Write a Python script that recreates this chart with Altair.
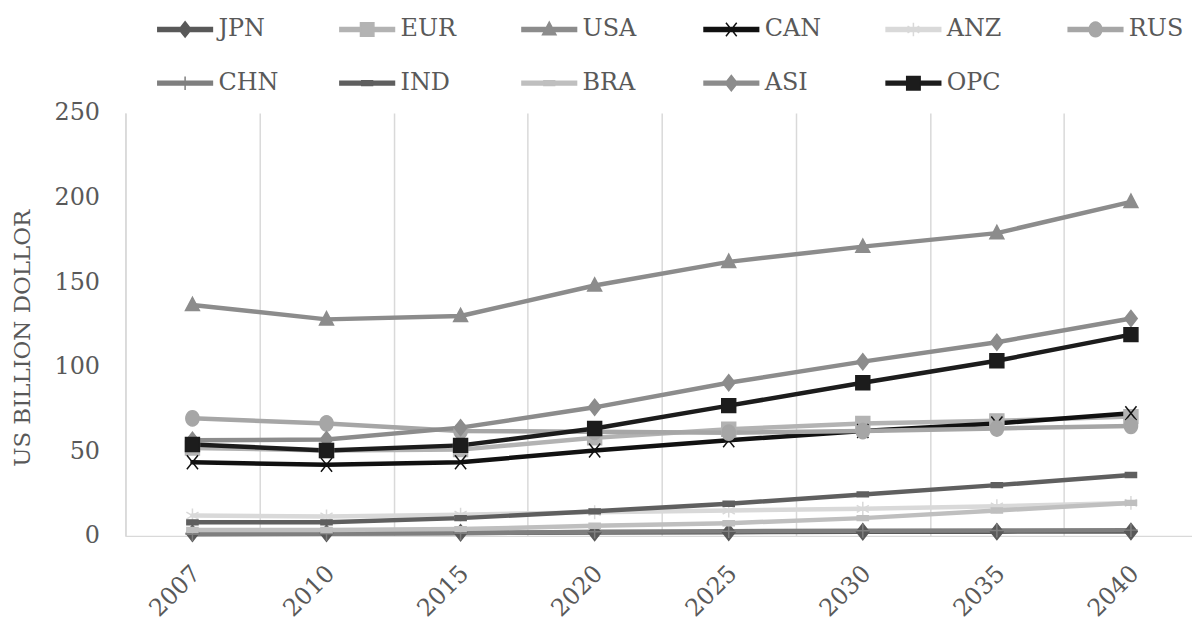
import math
import altair as alt
import pandas as pd

years = ["2007", "2010", "2015", "2020", "2025", "2030", "2035", "2040"]
series_names = ["JPN", "EUR", "USA", "CAN", "ANZ", "RUS", "CHN", "IND", "BRA", "ASI", "OPC"]

JPN = [1.5, 1.6, 1.8, 2.0, 2.2, 2.4, 2.5, 2.6]
EUR = [52.0, 50.5, 51.0, 58.0, 63.0, 66.5, 68.0, 70.5]
USA = [136.5, 128.0, 130.0, 148.0, 162.0, 171.0, 179.0, 197.5]
CAN = [43.5, 42.0, 43.5, 50.5, 56.5, 62.0, 66.5, 72.5]
ANZ = [12.0, 11.5, 12.5, 14.0, 15.0, 16.0, 17.5, 19.5]
RUS = [69.5, 66.5, 62.0, 61.5, 61.0, 62.0, 63.5, 65.0]
CHN = [1.0, 1.2, 1.5, 2.5, 2.8, 3.0, 3.2, 3.4]
IND = [8.0, 8.0, 10.5, 14.5, 19.0, 24.5, 30.0, 36.0]
BRA = [3.5, 3.5, 4.0, 6.0, 7.5, 10.5, 15.0, 19.5]
ASI = [56.5, 57.0, 64.0, 76.0, 90.5, 103.0, 114.5, 128.5]
OPC = [54.0, 50.5, 53.5, 63.5, 77.0, 90.5, 103.5, 119.0]

series_values = [JPN, EUR, USA, CAN, ANZ, RUS, CHN, IND, BRA, ASI, OPC]
colors = ["#595959", "#b3b3b3", "#8c8c8c", "#111111", "#d9d9d9", "#a6a6a6",
          "#7f7f7f", "#5f5f5f", "#bfbfbf", "#8c8c8c", "#1c1c1c"]
marker_kinds = ["diamond", "square", "triangle", "x", "asterisk", "circle",
                "plus", "dash", "dash", "diamond", "square"]

FONT = "DejaVu Serif"
TEXT = "#595959"
GRID = "#d9d9d9"

# marker geometry in unit symbol coordinates
MARKERS = {
    "diamond": [("p", [(0, -1.15), (0.9, 0), (0, 1.15), (-0.9, 0)])],
    "square": [("p", [(-1, -1), (1, -1), (1, 1), (-1, 1)])],
    "triangle": [("p", [(0, -1.1), (1, 0.8), (-1, 0.8)])],
    "x": [("l", [(-0.8, -1), (0.8, 1)]), ("l", [(-0.8, 1), (0.8, -1)])],
    "asterisk": [("l", [(0, -1), (0, 1)]), ("l", [(-0.87, -0.5), (0.87, 0.5)]),
                 ("l", [(-0.87, 0.5), (0.87, -0.5)])],
    "circle": [("p", [(0.95 * math.cos(2 * math.pi * k / 24), 1.1 * math.sin(2 * math.pi * k / 24))
                      for k in range(24)])],
    "plus": [("l", [(-1, 0), (1, 0)]), ("l", [(0, -1), (0, 1)])],
    "dash": [("p", [(-0.8, -0.35), (0.8, -0.35), (0.8, 0.35), (-0.8, 0.35)])],
}


def to_path(parts, k=1.0):
    out = []
    for kind, pts in parts:
        s = "M" + "L".join(f"{x * k:.3f},{y * k:.3f}" for x, y in pts)
        if kind == "p":
            s += "Z"
        out.append(s)
    return "".join(out)


plot_shapes = [to_path(MARKERS[m]) for m in marker_kinds]
line_seg = [("p", [(-1.83, -0.13), (1.83, -0.13), (1.83, 0.13), (-1.83, 0.13)])]
legend_shapes = [to_path(line_seg) + to_path(MARKERS[m], 0.45) for m in marker_kinds]

rows = []
for name, vals in zip(series_names, series_values):
    for yr, v in zip(years, vals):
        rows.append({"year": yr, "series": name, "value": v})
df = pd.DataFrame(rows)

base = alt.Chart(df)

x_enc = alt.X(
    "year:O", sort=years,
    scale=alt.Scale(type="band", domain=years, paddingInner=0, paddingOuter=0),
    bandPosition=0.5,
    axis=alt.Axis(title=None, labelAngle=-45, labelAlign="right", labelBaseline="middle",
                  labelPadding=34, labelOffset=4, grid=True, gridColor=GRID, gridWidth=1.5,
                  tickBand="extent", ticks=False, tickSize=0, domainColor=GRID, domainWidth=1.5,
                  labelFont=FONT, labelFontSize=24, labelColor=TEXT),
)
y_enc = alt.Y(
    "value:Q",
    scale=alt.Scale(domain=[0, 250], nice=False, zero=True),
    axis=alt.Axis(title="US BILLION DOLLOR", values=[0, 50, 100, 150, 200, 250], grid=False,
                  ticks=False, tickSize=0, labelPadding=26, domainColor=GRID, domainWidth=1.5,
                  labelFont=FONT, labelFontSize=24, labelColor=TEXT,
                  titleFont=FONT, titleFontSize=23, titleColor=TEXT, titleFontWeight="normal",
                  titlePadding=20, titleY=226),
)

cscale = alt.Scale(domain=series_names, range=colors)

lines = base.mark_line(strokeWidth=4.5, strokeJoin="round", strokeCap="round").encode(
    x=x_enc, y=y_enc,
    color=alt.Color("series:N", scale=cscale, legend=None),
)

points = base.mark_point(filled=True, opacity=1, size=196, strokeWidth=1.5).encode(
    x=x_enc, y=y_enc,
    color=alt.Color("series:N", scale=cscale, legend=None),
    stroke=alt.Stroke("series:N", scale=cscale, legend=None),
    shape=alt.Shape("series:N", scale=alt.Scale(domain=series_names, range=plot_shapes), legend=None),
)

leg = alt.Legend(title=None, orient="none", legendX=44, legendY=-100, columns=6,
                 direction="horizontal",
                 symbolSize=900, symbolStrokeWidth=1.5, symbolOpacity=1,
                 labelFont=FONT, labelFontSize=24, labelColor=TEXT, labelOffset=17.5,
                 columnPadding=58, rowPadding=26, gridAlign="all", padding=0)

legend_layer = base.transform_filter("false").mark_point(filled=True, opacity=1, strokeWidth=1.5).encode(
    color=alt.Color("series:N", scale=cscale, legend=leg),
    stroke=alt.Stroke("series:N", scale=cscale, legend=leg),
    shape=alt.Shape("series:N", scale=alt.Scale(domain=series_names, range=legend_shapes), legend=leg),
)

chart = alt.layer(lines, points, legend_layer).resolve_scale(
    color="independent", stroke="independent", shape="independent"
).properties(
    width=1078, height=425,
    autosize=alt.AutoSizeParams(type="none"),
    padding={"left": 118, "top": 104, "right": -6, "bottom": 84},
    background="white",
).configure_view(stroke=None)

chart.save("out.html", embed_options={"renderer": "svg", "actions": False})
